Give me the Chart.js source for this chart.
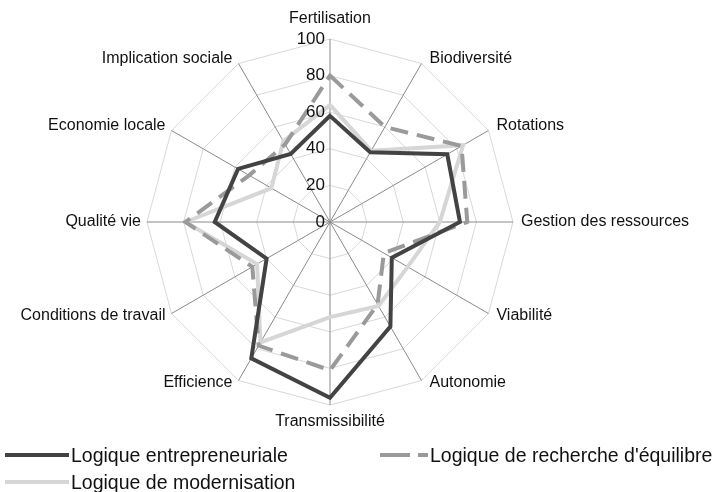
<!DOCTYPE html>
<html>
<head>
<meta charset="utf-8">
<script src="https://cdn.jsdelivr.net/npm/chart.js@4"></script>
<style>
  body { margin: 0; background: #fff; }
  #wrap { position: relative; width: 720px; height: 492px; font-family: "Liberation Sans", Arial, sans-serif; }
  #chart { position: absolute; left: 0; top: 0; }
  .leg { position: absolute; font-size: 19.5px; color: #111; line-height: 20px; white-space: nowrap; }
  .leg svg { position: absolute; }
</style>
</head>
<body>
<div id="wrap">
  <canvas id="chart" width="720" height="492"></canvas>
  <div id="legend"></div>
</div>
<script>
// =========================
// データ
// =========================
const axes = [
  "Fertilisation", "Biodiversité", "Rotations", "Gestion des ressources",
  "Viabilité", "Autonomie", "Transmissibilité", "Efficience",
  "Conditions de travail", "Qualité vie", "Economie locale", "Implication sociale"
];
const entrepreneuriale = [58, 44, 74, 71, 39, 66, 96, 86, 40, 63, 58, 43];
const equilibre = [80, 60, 83, 75, 34, 52, 81, 78, 49, 79, 51, 49];
const modernisation = [64, 45, 84, 60, 49, 53, 52, 76, 46, 79, 37, 51];
const tickValues = [0, 20, 40, 60, 80, 100];

const seriesNames = [
  "Logique entrepreneuriale",
  "Logique de recherche d'équilibre",
  "Logique de modernisation"
];

const FONT = '"Liberation Sans", Arial, sans-serif';

// =========================
// 軸ラベル・目盛り（自前描画）
// =========================
const labelPlugin = {
  id: "labels",
  afterDatasetsDraw(chart) {
    const scale = chart.scales.r;
    const ctx = chart.ctx;
    ctx.save();
    ctx.fillStyle = "#111";

    // 目盛り 0..100（縦軸の左に右寄せ）
    ctx.font = "17px " + FONT;
    ctx.textAlign = "right";
    ctx.textBaseline = "middle";
    tickValues.forEach((v) => {
      const d = scale.getDistanceFromCenterForValue(v);
      ctx.fillText(String(v), scale.xCenter - 5, scale.yCenter - d);
    });

    // 項目名
    ctx.font = "16px " + FONT;
    axes.forEach((name, i) => {
      const p = scale.getPointPosition(i, scale.drawingArea);
      const dx = p.x - scale.xCenter;
      const dy = p.y - scale.yCenter;
      let x = p.x, y = p.y;
      if (Math.abs(dx) < 1) {
        ctx.textAlign = "center";
        y = dy < 0 ? p.y - 20 : p.y + 17;
      } else {
        ctx.textAlign = dx > 0 ? "left" : "right";
        x = dx > 0 ? p.x + 8 : p.x - 6;
        y = dy < -1 ? p.y - 5 : (dy > 1 ? p.y + 2 : p.y);
      }
      ctx.textBaseline = "middle";
      ctx.fillText(name, x, y);
    });
    ctx.restore();
  }
};

// =========================
// グラフ
// =========================
new Chart(document.getElementById("chart"), {
  type: "radar",
  data: {
    labels: axes,
    datasets: [
      {
        label: seriesNames[0],
        data: entrepreneuriale,
        borderColor: "#434343",
        borderWidth: 4,
        fill: false,
        pointRadius: 0,
        order: 1,
      },
      {
        label: seriesNames[1],
        data: equilibre,
        borderColor: "#9a9a9a",
        borderWidth: 4,
        borderDash: [18, 9],
        fill: false,
        pointRadius: 0,
        order: 2,
      },
      {
        label: seriesNames[2],
        data: modernisation,
        borderColor: "#d6d6d6",
        borderWidth: 4,
        fill: false,
        pointRadius: 0,
        order: 3,
      },
    ],
  },
  options: {
    responsive: false,
    animation: false,
    layout: { padding: { left: 147, right: 206, top: 39, bottom: 86 } },
    plugins: { legend: { display: false }, tooltip: { enabled: false } },
    elements: { line: { tension: 0, borderJoinStyle: "miter" } },
    scales: {
      r: {
        min: 0,
        max: 100,
        beginAtZero: true,
        ticks: { display: false, stepSize: 20 },
        pointLabels: { display: false },
        grid: { circular: false, color: "#d8d8d8", lineWidth: 1 },
        angleLines: { color: "#8a8a8a", lineWidth: 1 },
      },
    },
  },
  plugins: [labelPlugin],
});

// =========================
// 凡例
// =========================
const legendItems = [
  { name: seriesNames[0], color: "#434343", dash: "", x: 5, y: 455 },
  { name: seriesNames[1], color: "#9a9a9a", dash: "30 8", x: 380, y: 455 },
  { name: seriesNames[2], color: "#d6d6d6", dash: "", x: 5, y: 482 },
];
const box = document.getElementById("legend");
legendItems.forEach((it) => {
  const w = it.dash ? 48 : 64;
  box.innerHTML += `
    <div class="leg" style="left:${it.x}px;top:${it.y - 10}px;">
      <svg width="${w}" height="20" style="left:0;top:0">
        <line x1="0" y1="10" x2="${w}" y2="10" stroke="${it.color}" stroke-width="4"
          ${it.dash ? `stroke-dasharray="${it.dash}"` : ""}/>
      </svg>
      <span style="position:absolute;left:${w + 2}px;top:0">${it.name}</span>
    </div>
  `;
});
</script>
</body>
</html>
